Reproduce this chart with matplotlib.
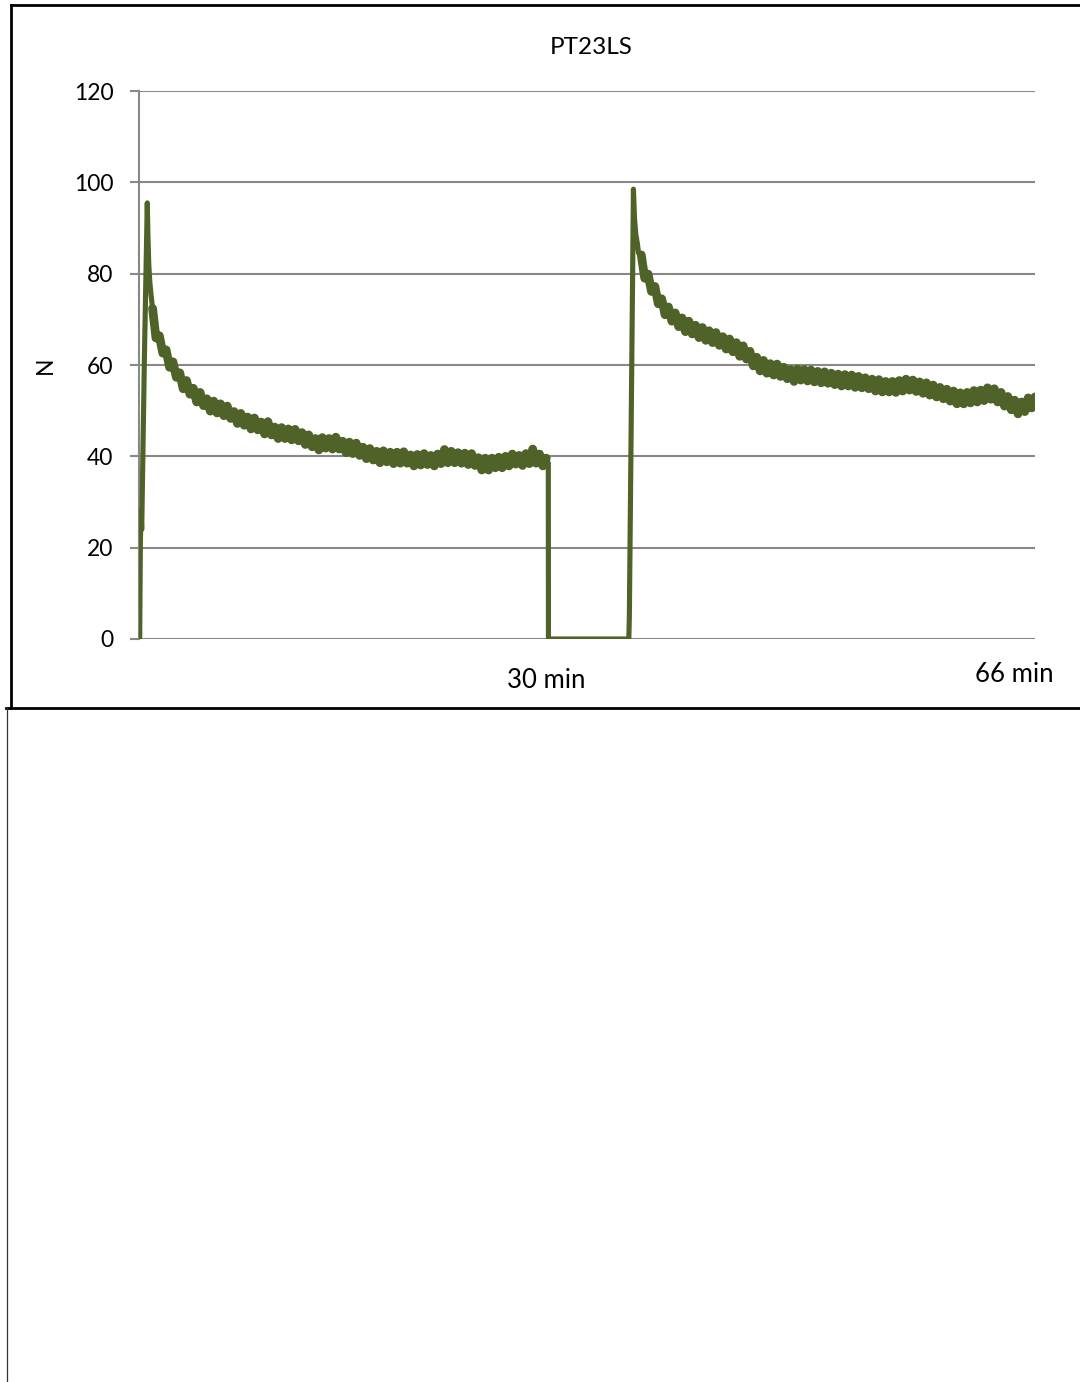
import numpy as np
import matplotlib
matplotlib.use("Agg")
import matplotlib.pyplot as plt
from matplotlib.lines import Line2D

plt.rcParams["font.family"] = ["Lato", "DejaVu Sans"]

TITLE = "PT23LS"
Y_LABEL = "N"
Y_TICKS = [0, 20, 40, 60, 80, 100, 120]
X_MARK_LABELS = {30: "30 min", 66: "66 min"}
LINE_COLOR = "#4F6228"
GRID_COLOR = "#888888"

# first loading: ramp-up and peak (minutes, newtons)
rise1_t = [0.05, 0.10, 0.15, 0.20, 0.40, 0.61, 0.66, 0.72, 0.80, 0.90, 1.0]
rise1_f = [0.0, 21.0, 28.0, 24.0, 62.0, 95.5, 88.0, 82.0, 78.0, 75.0, 72.4]

# first relaxation, sampled every 0.25 min from 1.0 to 30.0
relax1_t = np.linspace(1.0, 30.0, 117)
relax1_f = [
    72.4, 65.9, 66.4, 62.6, 63.3, 59.5, 60.7, 57.3, 58.3, 54.8,
    56.6, 53.6, 54.9, 51.9, 54.0, 51.1, 52.6, 49.9, 52.1, 49.5,
    51.5, 48.9, 51.0, 48.3, 49.8, 47.2, 49.4, 46.8, 48.6, 46.0,
    48.4, 45.8, 47.5, 44.9, 47.6, 44.7, 46.4, 43.9, 46.3, 43.9,
    46.0, 43.6, 45.9, 43.4, 45.2, 42.6, 44.7, 42.1, 43.9, 41.4,
    44.1, 41.8, 43.9, 41.6, 44.2, 41.6, 43.3, 40.8, 43.1, 40.6,
    42.9, 40.2, 42.0, 39.5, 41.7, 39.2, 41.1, 38.6, 41.2, 38.8,
    40.9, 38.4, 40.9, 38.5, 41.0, 38.5, 40.3, 37.9, 40.4, 38.1,
    40.6, 38.2, 40.2, 37.9, 40.5, 38.4, 41.5, 38.6, 41.1, 38.6,
    40.8, 38.5, 40.7, 38.2, 40.6, 38.0, 39.7, 37.0, 39.6, 37.0,
    39.6, 37.5, 39.8, 37.5, 40.0, 37.9, 40.5, 38.3, 40.2, 38.0,
    40.6, 38.4, 41.6, 38.5, 40.5, 37.9, 39.6,
]

# unloaded pause and second loading
pause_t = [30.0, 30.15, 30.16, 36.08, 36.12, 36.42, 36.50, 36.60, 36.70, 36.80, 36.90, 37.0]
pause_f = [39.6, 38.5, 0.0, 0.0, 5.0, 98.5, 92.0, 88.5, 86.8, 84.5, 84.2, 84.1]

# second relaxation, sampled every 0.25 min from 37.0 to 66.0
relax2_t = np.linspace(37.0, 66.0, 117)
relax2_f = [
    84.1, 79.0, 79.9, 76.1, 77.2, 73.4, 74.5, 71.0, 72.7, 69.6,
    71.4, 68.4, 70.3, 67.3, 69.6, 66.8, 68.7, 66.0, 68.2, 65.4,
    67.5, 64.9, 67.1, 64.3, 66.2, 63.5, 65.7, 62.9, 64.9, 61.9,
    64.2, 61.3, 63.0, 59.8, 61.7, 58.7, 61.0, 58.2, 60.3, 57.8,
    60.2, 57.5, 59.5, 57.0, 59.0, 56.4, 59.1, 56.7, 59.0, 56.5,
    58.9, 56.3, 58.6, 56.1, 58.5, 56.0, 58.2, 55.7, 58.0, 55.4,
    57.9, 55.4, 57.8, 55.1, 57.5, 55.0, 57.2, 54.8, 56.9, 54.3,
    56.8, 54.1, 56.4, 54.1, 56.4, 54.0, 56.6, 54.3, 56.9, 54.5,
    56.7, 54.2, 56.3, 53.8, 56.1, 53.4, 55.6, 53.0, 55.1, 52.6,
    54.7, 52.1, 54.3, 51.5, 53.9, 51.5, 54.0, 51.7, 54.4, 51.9,
    54.5, 52.2, 55.0, 52.5, 54.8, 51.9, 54.0, 51.0, 53.1, 50.2,
    52.3, 49.3, 51.9, 49.8, 52.8, 50.6, 53.0,
]

W, H = 1080, 1382
fig = plt.figure(figsize=(W / 100, H / 100), dpi=100)


def px(x, y):
    return x / W, 1 - y / H


# plot area
left, right, top, bottom = 139, 1035, 91, 639
ax = fig.add_axes([left / W, 1 - bottom / H, (right - left) / W, (bottom - top) / H])
ax.set_xlim(0, 66)
ax.set_ylim(0, 120)

for v in Y_TICKS:
    ax.axhline(v, color=GRID_COLOR, lw=1.5, zorder=1)

# steep loading / unloading parts drawn thin, noisy relaxation parts heavier
line_kw = dict(color=LINE_COLOR, solid_joinstyle="round", solid_capstyle="round", zorder=3)
ax.plot(rise1_t, rise1_f, lw=3.7, **line_kw)
ax.plot(pause_t, pause_f, lw=3.7, **line_kw)
ax.plot(relax1_t, relax1_f, lw=6.3, **line_kw)
ax.plot(relax2_t, relax2_f, lw=6.3, **line_kw)

for s in ["top", "right", "bottom"]:
    ax.spines[s].set_visible(False)
ax.spines["left"].set_color(GRID_COLOR)
ax.spines["left"].set_linewidth(1.5)

ax.set_yticks(Y_TICKS)
ax.tick_params(axis="y", direction="out", length=6.5, width=1.5, color=GRID_COLOR,
               labelsize=16.5, pad=12, labelcolor="#000000")
ax.set_xticks([])

fig.text(*px(45, 365), Y_LABEL, ha="center", va="center", rotation=90, fontsize=16.5)
fig.text(*px(546, 680), X_MARK_LABELS[30], ha="center", va="center", fontsize=18.5)
fig.text(*px(1014, 674), X_MARK_LABELS[66], ha="center", va="center", fontsize=18.5)
fig.text(*px(591, 48), TITLE, ha="center", va="center", fontsize=17.5)

# frame of the chart panel
fig.add_artist(Line2D([px(11, 0)[0], px(11, 0)[0]], [px(0, 5)[1], px(0, 708)[1]],
                      transform=fig.transFigure, color="black", lw=2.0))
fig.add_artist(Line2D([px(11, 0)[0], 1.0], [px(0, 5)[1], px(0, 5)[1]],
                      transform=fig.transFigure, color="black", lw=2.0))
fig.add_artist(Line2D([px(6, 0)[0], 1.0], [px(0, 708)[1], px(0, 708)[1]],
                      transform=fig.transFigure, color="black", lw=2.0))
# empty panel below
fig.add_artist(Line2D([px(6.5, 0)[0], px(6.5, 0)[0]], [px(0, 708)[1], 0.0],
                      transform=fig.transFigure, color="#333333", lw=0.9))

fig.savefig("out.png", dpi=100)
